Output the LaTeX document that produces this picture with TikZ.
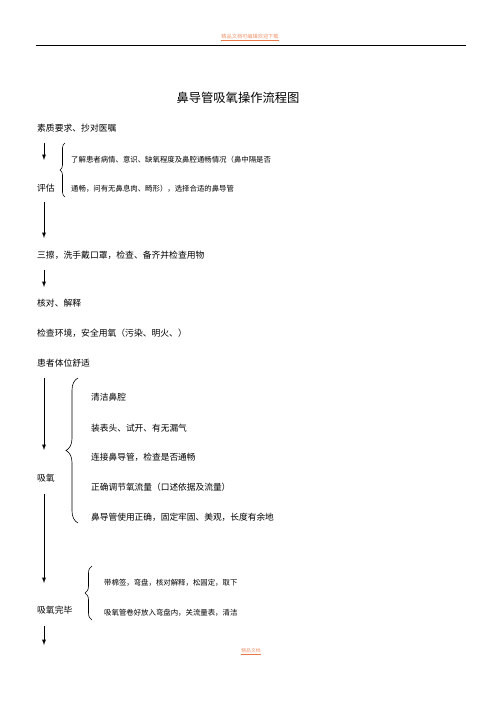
\documentclass[tikz,border=0pt]{standalone}
\usepackage{fontspec}
\setmainfont{Noto Sans CJK SC}
\usetikzlibrary{arrows,decorations.pathreplacing}

\definecolor{headorange}{RGB}{240,150,110}
\definecolor{ruleorange}{RGB}{235,120,70}

\begin{document}
\begin{tikzpicture}[x=1bp,y=-1bp]
\tikzstyle{stage} = [anchor=west, inner sep=0pt, font=\fontsize{8.8bp}{10bp}\selectfont]
\tikzstyle{detail} = [anchor=west, inner sep=0pt, font=\fontsize{7.4bp}{9bp}\selectfont]
\tikzstyle{item} = [anchor=west, inner sep=0pt, font=\fontsize{8.7bp}{10bp}\selectfont]
\tikzstyle{tag} = [inner sep=0.5pt, text=headorange, font=\fontsize{5.2bp}{6bp}\selectfont]
\tikzstyle{line} = [draw, line width=0.9bp, ->, >=latex];
\tikzstyle{curly} = [draw, line width=0.6bp, decorate];
\useasboundingbox[fill=white] (0,0) rectangle (496,702);

% page header and title
\node [tag] (header) at (250,37) {精品文档可编辑欢迎下载};
\draw [ruleorange, line width=0.6bp] (header.south west) -- (header.south east);
\draw [line width=1bp] (36,46) -- (466,46);
\node [font=\fontsize{12.3bp}{14bp}\selectfont] (title) at (238,98) {鼻导管吸氧操作流程图};

% stages
\node [stage] (quality) at (37,128) {素质要求、抄对医嘱};
\node [stage] (assess) at (37,188) {评估};
\node [stage] (prepare) at (37,255) {三擦，洗手戴口罩，检查、备齐并检查用物};
\node [stage] (check) at (37,303) {核对、解释};
\node [stage] (env) at (37,333) {检查环境，安全用氧（污染、明火、）};
\node [stage] (pose) at (37,363) {患者体位舒适};
\node [stage] (oxygen) at (37,478) {吸氧};
\node [stage] (finish) at (37,610) {吸氧完毕};

% details
\node [detail] (assess1) at (71,160) {了解患者病情、意识、缺氧程度及鼻腔通畅情况（鼻中隔是否};
\node [detail] (assess2) at (71,189) {通畅，问有无鼻息肉、畸形），选择合适的鼻导管};
\node [item] (ox1) at (91,397) {清洁鼻腔};
\node [item] (ox2) at (91,428) {装表头、试开、有无漏气};
\node [item] (ox3) at (91,457) {连接鼻导管，检查是否通畅};
\node [item] (ox4) at (91,487) {正确调节氧流量（口述依据及流量）};
\node [item] (ox5) at (91,517) {鼻导管使用正确，固定牢固、美观，长度有余地};
\node [detail] (end1) at (104,583) {带棉签，弯盘，核对解释，松固定，取下};
\node [detail] (end2) at (104,613) {吸氧管卷好放入弯盘内，关流量表，清洁};

% footer
\node [tag, font=\fontsize{4.8bp}{6bp}\selectfont] (footer) at (251,651) {精品文档};
\draw [ruleorange, line width=0.6bp] (footer.south west) -- (footer.south east);

% arrow ends
\coordinate (a1) at (44,143); \coordinate (b1) at (44,160);
\coordinate (a2) at (44,202); \coordinate (b2) at (44,238);
\coordinate (a3) at (44,270); \coordinate (b3) at (44,287);
\coordinate (a4) at (44,378); \coordinate (b4) at (44,450);
\coordinate (a5) at (44,494); \coordinate (b5) at (44,583);
\coordinate (a6) at (44,626); \coordinate (b6) at (44,645);
\foreach \i in {1,...,6}
  \path [line] (a\i) -- (b\i);

% braces
\path [curly, decoration={brace, amplitude=5bp}] (65,197) -- (65,143);
\path [curly, decoration={brace, amplitude=12bp}] (78,523) -- (78,378);
\path [curly, decoration={brace, amplitude=7bp}] (92,620) -- (92,566);
\end{tikzpicture}
\end{document}
